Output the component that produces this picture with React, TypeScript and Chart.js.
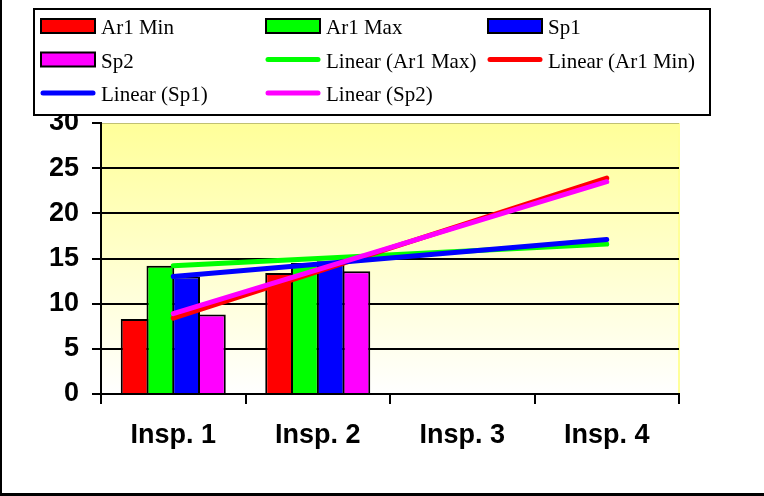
import React, { useEffect, useRef } from "react";
import { Chart, registerables } from "chart.js";

Chart.register(...registerables);

const categories = ["Insp. 1", "Insp. 2", "Insp. 3", "Insp. 4"];
const ar1Min = [8.3, 13.4, null, null];
const ar1Max = [14.2, 14.5, null, null];
const sp1 = [13.0, 14.7, null, null];
const sp2 = [8.8, 13.6, null, null];
const trendAr1Max = [14.2, null, null, 16.6];
const trendAr1Min = [8.4, null, null, 23.9];
const trendSp1 = [13.0, null, null, 17.1];
const trendSp2 = [8.9, null, null, 23.5];
const yTicks = [0, 5, 10, 15, 20, 25, 30];

const RED = "#FF0000";
const GREEN = "#00FF00";
const BLUE = "#0000FF";
const MAGENTA = "#FF00FF";

const framePlugin = {
  id: "frame",
  beforeDraw(chart: any) {
    const { ctx, chartArea: a } = chart;
    ctx.save();
    ctx.fillStyle = "#FFFFFF";
    ctx.fillRect(0, 0, chart.width, chart.height);
    const g = ctx.createLinearGradient(0, a.top, 0, a.bottom);
    g.addColorStop(0, "#FFFF99");
    g.addColorStop(1, "#FFFFFF");
    ctx.fillStyle = g;
    ctx.fillRect(a.left, a.top, a.right - a.left, a.bottom - a.top);
    ctx.fillStyle = "#FFFF99";
    ctx.fillRect(a.right - 1, a.top, 2, a.bottom - a.top);
    ctx.fillStyle = "rgba(150,150,90,0.6)";
    ctx.fillRect(a.left, a.top, a.right - a.left, 1);
    ctx.restore();
  },
  afterDraw(chart: any) {
    const { ctx } = chart;
    ctx.save();
    // outer frame (left and bottom edges visible)
    ctx.fillStyle = "#000000";
    ctx.fillRect(0, 0, 2, chart.height);
    ctx.fillRect(0, chart.height - 3, chart.width, 3);
    // legend box
    ctx.fillStyle = "#FFFFFF";
    ctx.fillRect(34, 9, 676, 106);
    ctx.strokeStyle = "#000000";
    ctx.lineWidth = 2;
    ctx.strokeRect(34, 9, 676, 106);
    const colX = [41, 266, 488];
    const rowY = [26, 59.5, 93];
    ctx.font = '21px "Liberation Serif", "Times New Roman", serif';
    ctx.textBaseline = "alphabetic";
    ctx.textAlign = "left";
    chart.data.datasets.forEach((ds: any, i: number) => {
      const x = colX[i % 3];
      const y = rowY[Math.floor(i / 3)];
      if (ds.type === "line") {
        ctx.strokeStyle = ds.borderColor;
        ctx.lineWidth = 5;
        ctx.lineCap = "round";
        ctx.beginPath();
        ctx.moveTo(x + 2, y);
        ctx.lineTo(x + 52, y);
        ctx.stroke();
      } else {
        ctx.fillStyle = ds.backgroundColor;
        ctx.fillRect(x, y - 7, 54, 14);
        ctx.strokeStyle = "#000000";
        ctx.lineWidth = 2;
        ctx.strokeRect(x, y - 7, 54, 14);
      }
      ctx.fillStyle = "#000000";
      ctx.fillText(ds.label, x + 60, y + 8);
    });
    ctx.restore();
  },
};

export default function App() {
  const ref = useRef<HTMLCanvasElement | null>(null);
  useEffect(() => {
    if (!ref.current) return;
    const bar = (label: string, data: any[], color: string) => ({
      type: "bar" as const,
      label,
      data,
      backgroundColor: color,
      borderColor: "#000000",
      borderWidth: 2,
      categoryPercentage: 0.713,
      barPercentage: 1.078,
      order: 10,
    });
    const trend = (label: string, data: any[], color: string, order: number) => ({
      type: "line" as const,
      label,
      data,
      borderColor: color,
      backgroundColor: color,
      borderWidth: 5,
      borderCapStyle: "round" as const,
      pointRadius: 0,
      spanGaps: true,
      fill: false,
      order,
    });
    const chart = new Chart(ref.current, {
      type: "bar",
      data: {
        labels: categories,
        datasets: [
          bar("Ar1 Min", ar1Min, RED),
          bar("Ar1 Max", ar1Max, GREEN),
          bar("Sp1", sp1, BLUE),
          bar("Sp2", sp2, MAGENTA),
          trend("Linear (Ar1 Max)", trendAr1Max, GREEN, 4),
          trend("Linear (Ar1 Min)", trendAr1Min, RED, 3),
          trend("Linear (Sp1)", trendSp1, BLUE, 2),
          trend("Linear (Sp2)", trendSp2, MAGENTA, 1),
        ] as any,
      },
      options: {
        responsive: false,
        animation: false,
        layout: { padding: { left: 50, right: 85, top: 123, bottom: 0 } },
        plugins: {
          legend: { display: false },
          tooltip: { enabled: false },
        },
        scales: {
          x: {
            offset: true,
            grid: {
              offset: true,
              drawOnChartArea: false,
              drawTicks: true,
              tickLength: 10,
              tickColor: "#000000",
              lineWidth: 2,
              color: "#000000",
            },
            border: { color: "#000000", width: 2 },
            ticks: {
              color: "#000000",
              padding: 15,
              maxRotation: 0,
              font: { family: '"Liberation Sans", Arial, sans-serif', size: 27, weight: "bold" },
            },
            afterFit: (s: any) => {
              s.height = 102;
            },
          },
          y: {
            min: yTicks[0],
            max: yTicks[yTicks.length - 1],
            afterBuildTicks: (s: any) => {
              s.ticks = yTicks.map((v) => ({ value: v }));
            },
            grid: {
              color: (c: any) =>
                c.tick && (c.tick.value === 0 || c.tick.value === 30) ? "rgba(0,0,0,0)" : "#000000",
              tickColor: "#000000",
              tickLength: 9,
              lineWidth: 2,
            },
            border: { color: "#000000", width: 2 },
            ticks: {
              color: "#000000",
              padding: 13,
              font: { family: '"Liberation Sans", Arial, sans-serif', size: 27, weight: "bold" },
            },
            afterFit: (s: any) => {
              s.width = 51;
            },
          },
        },
      },
      plugins: [framePlugin],
    });
    return () => chart.destroy();
  }, []);
  return (
    <div style={{ position: "absolute", left: 0, top: 0, width: 764, height: 496 }}>
      <canvas ref={ref} width={764} height={496} style={{ width: 764, height: 496, display: "block" }} />
    </div>
  );
}
